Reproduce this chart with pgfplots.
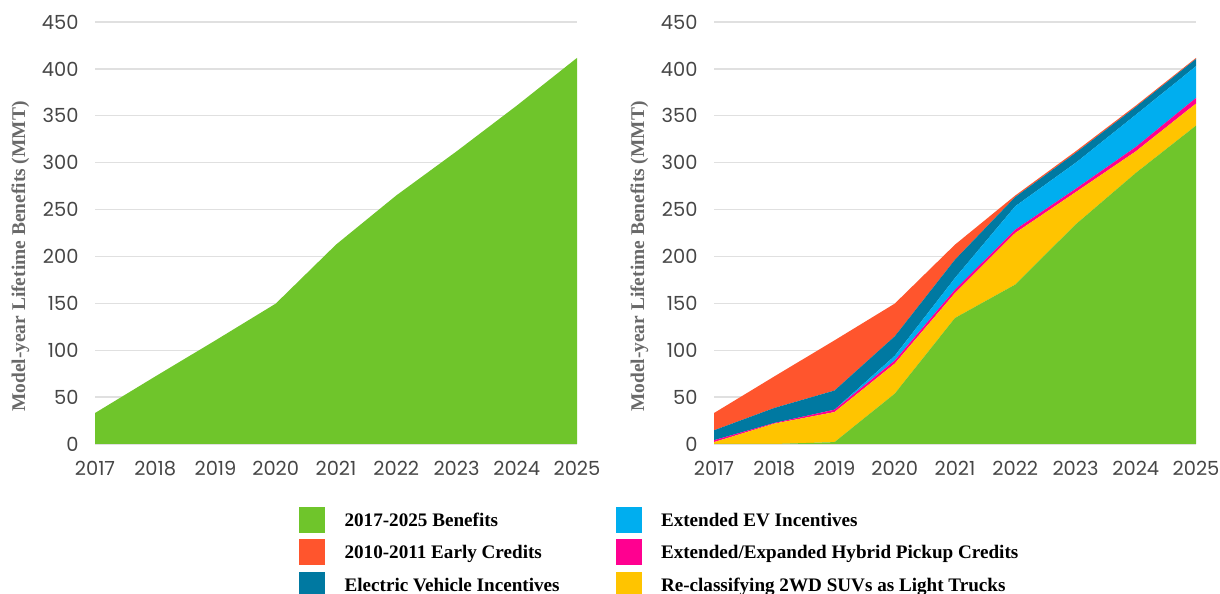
\documentclass[border=0pt]{standalone}
\usepackage{fontspec}
\setmainfont{Poppins}
\newfontfamily\seriffont{Liberation Serif}
\usepackage{pgfplots}
\pgfplotsset{compat=1.18}
\definecolor{cgreen}{RGB}{111,197,43}
\definecolor{cred}{RGB}{255,85,45}
\definecolor{cdblue}{RGB}{0,121,161}
\definecolor{clblue}{RGB}{0,174,239}
\definecolor{cpink}{RGB}{255,0,144}
\definecolor{cyellow}{RGB}{255,196,0}
\definecolor{gridgray}{RGB}{224,224,224}
\definecolor{ticktext}{RGB}{70,70,70}
\definecolor{labeltext}{RGB}{105,105,105}
\pgfplotsset{
  mystyle/.style={
    scale only axis, width=482bp, height=422bp,
    xmin=2017, xmax=2025, ymin=0, ymax=450,
    xtick={2017,2018,...,2025}, ytick={0,50,...,450},
    axis line style={draw=none}, major tick length=0pt,
    ymajorgrids, grid style={draw=gridgray, line width=1.3bp},
    /pgf/number format/assume math mode=true,
    /pgf/number format/1000 sep={},
    tick label style={font=\fontsize{19.5}{19.5}\selectfont, text=ticktext},
    yticklabel style={xshift=-13bp},
    xticklabel style={yshift=-14bp},
    ylabel={Model-year Lifetime Benefits (MMT)},
    ylabel style={at={(axis description cs:-0.155,0.444)}, anchor=center,
      font=\seriffont\bfseries\fontsize{19.5}{19.5}\selectfont, text=labeltext},
    clip=false, axis on top=false,
  }
}
\begin{document}
\begin{tikzpicture}[x=1bp,y=1bp]
\useasboundingbox (0,0) rectangle (1220,594);
\begin{axis}[mystyle, at={(95bp,150bp)}, anchor=south west]
\addplot[fill=cgreen, draw=none] coordinates {
(2017,33) (2018,72) (2019,110.5) (2020,149.7) (2021,212.6) (2022,265) (2023,312) (2024,360.8) (2025,411.7)} \closedcycle;
\end{axis}
\begin{axis}[mystyle, at={(714bp,150bp)}, anchor=south west, stack plots=y,
  legend columns=2,
  legend cell align=left,
  legend image code/.code={\fill[#1] (0bp,-10bp) rectangle (25bp,15bp);},
  legend style={at={(axis description cs:-0.861,-0.149)}, anchor=north west,
    draw=none, fill=none, inner sep=0pt, row sep=7bp,
    font=\seriffont\bfseries\fontsize{19.2}{19.2}\selectfont,
    nodes={inner sep=0pt, text height=13bp, text depth=5bp},
    /tikz/every odd column/.append style={column sep=20bp}},
]
% 2017-2025 Benefits
\addplot[fill=cgreen, draw=none, forget plot] coordinates {
(2017,0) (2018,0) (2019,2) (2020,53.7) (2021,134.4) (2022,170) (2023,234) (2024,289) (2025,339.5)} \closedcycle;
% Re-classifying 2WD SUVs
\addplot[fill=cyellow, draw=none, forget plot] coordinates {
(2017,2) (2018,21.7) (2019,32) (2020,32) (2021,26.6) (2022,55) (2023,34.4) (2024,23) (2025,23.5)} \closedcycle;
% Hybrid pickup
\addplot[fill=cpink, draw=none, forget plot] coordinates {
(2017,2) (2018,0.7) (2019,2.6) (2020,3.3) (2021,3.6) (2022,3.6) (2023,3.6) (2024,4.7) (2025,6)} \closedcycle;
% Extended EV
\addplot[fill=clblue, draw=none, forget plot] coordinates {
(2017,0) (2018,0) (2019,0) (2020,5) (2021,12.4) (2022,24.9) (2023,27.7) (2024,34.3) (2025,33.8)} \closedcycle;
% EV incentives
\addplot[fill=cdblue, draw=none, forget plot] coordinates {
(2017,10.6) (2018,16) (2019,20.4) (2020,20.8) (2021,19.6) (2022,9.9) (2023,10.6) (2024,8.4) (2025,7.8)} \closedcycle;
% Early credits
\addplot[fill=cred, draw=none, forget plot] coordinates {
(2017,18.4) (2018,33.6) (2019,53.5) (2020,34.9) (2021,16) (2022,1.6) (2023,1.7) (2024,1.4) (2025,1.1)} \closedcycle;
\addlegendimage{cgreen}\addlegendentry{\makebox[271bp][l]{2017-2025 Benefits}}
\addlegendimage{clblue}\addlegendentry{Extended EV Incentives}
\addlegendimage{cred}\addlegendentry{\makebox[271bp][l]{2010-2011 Early Credits}}
\addlegendimage{cpink}\addlegendentry{Extended/Expanded Hybrid Pickup Credits}
\addlegendimage{cdblue}\addlegendentry{\makebox[271bp][l]{Electric Vehicle Incentives}}
\addlegendimage{cyellow}\addlegendentry{Re-classifying 2WD SUVs as Light Trucks}
\end{axis}
\end{tikzpicture}
\end{document}
